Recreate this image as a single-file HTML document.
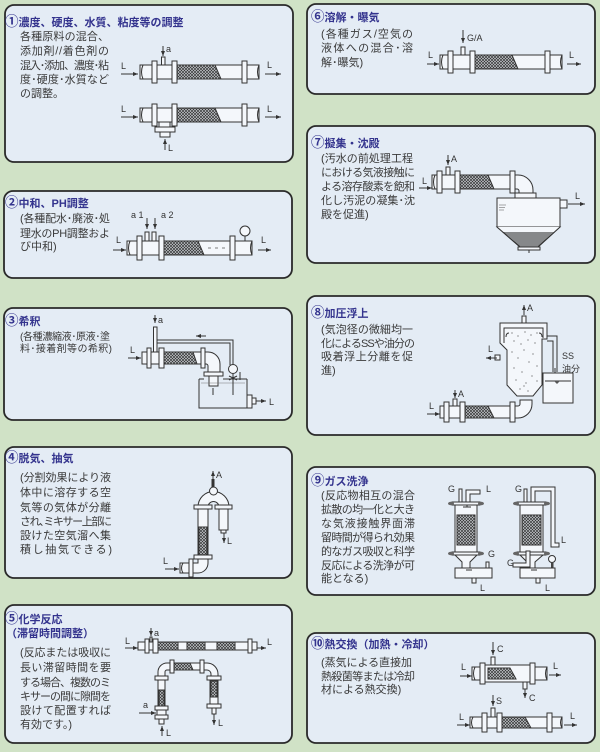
<!DOCTYPE html>
<html><head><meta charset="utf-8"><title>mixer applications</title>
<style>
html,body{margin:0;padding:0;width:600px;height:752px;overflow:hidden;background:#d0e2c6}
svg{display:block}
.bx{fill:#e4ecf5;stroke:#2a2a2a;stroke-width:1.8}
.t{font-family:"Liberation Sans","Noto Sans CJK JP",sans-serif;font-weight:bold;font-size:11px;fill:#34348e}
.c{font-family:"Noto Sans CJK JP",sans-serif;font-size:13.5px;font-weight:bold}
.b{font-family:"Liberation Sans","Noto Sans CJK JP",sans-serif;font-size:11px;fill:#3a3a3a}
.s{font-size:10px}
.l{font-family:"Liberation Sans",sans-serif;font-size:9px;fill:#333}
.p{fill:#f4f7fb;stroke:#333;stroke-width:1}
.m{fill:url(#m);stroke:#333;stroke-width:1}
.n{fill:none;stroke:#333;stroke-width:1}
.ar{fill:none;stroke:#333;stroke-width:1;marker-end:url(#a)}
.d{fill:#555}
</style></head><body>
<svg width="600" height="752" viewBox="0 0 600 752" xmlns="http://www.w3.org/2000/svg">
<defs>
<pattern id="m" width="3" height="3" patternUnits="userSpaceOnUse"><rect width="3" height="3" fill="#cdd1d6"/><path d="M0,0L3,3M3,0L0,3" stroke="#333" stroke-width="0.7"/></pattern>
<pattern id="h" width="2" height="2" patternUnits="userSpaceOnUse"><rect width="2" height="2" fill="#b8bcc0"/><path d="M0,0L2,2M2,0L0,2" stroke="#555" stroke-width="0.5"/></pattern>
<marker id="a" markerWidth="5" markerHeight="5" refX="5" refY="2.5" orient="auto" markerUnits="userSpaceOnUse"><path d="M0,0.5L5,2.5L0,4.5z" fill="#333"/></marker>
</defs>
<rect width="600" height="752" fill="#d0e2c6"/>

<!-- boxes -->
<rect class="bx" x="5" y="5" width="288" height="157" rx="9"/>
<rect class="bx" x="307" y="4" width="288" height="90" rx="9"/>
<rect class="bx" x="4" y="191" width="288" height="87" rx="9"/>
<rect class="bx" x="307" y="126" width="288" height="137" rx="9"/>
<rect class="bx" x="4" y="308" width="288" height="112" rx="9"/>
<rect class="bx" x="307" y="296" width="288" height="139" rx="9"/>
<rect class="bx" x="5" y="447" width="287" height="131" rx="9"/>
<rect class="bx" x="307" y="467" width="288" height="128" rx="9"/>
<rect class="bx" x="5" y="605" width="287" height="138" rx="9"/>
<rect class="bx" x="307" y="633" width="288" height="110" rx="9"/>

<!-- ===== Box 1 text ===== -->
<text class="t" x="5" y="26"><tspan class="c">①</tspan>濃度、硬度、水質、粘度等の調整</text>
<text class="b" x="20" y="40" textLength="89">各種原料の混合、</text>
<text class="b" x="20" y="54.5" textLength="89">添加剤//着色剤の</text>
<text class="b" x="20" y="69" textLength="89">混入･添加、濃度･粘</text>
<text class="b" x="20" y="83" textLength="89">度･硬度･水質など</text>
<text class="b" x="20" y="97">の調整。</text>

<!-- Box 1 diagram top -->
<text class="l" x="121" y="69">L</text>
<line class="ar" x1="121" y1="74" x2="138" y2="74"/>
<rect class="p" x="140" y="65" width="12" height="14"/>
<path class="n" d="M143,65 q-3,7 0,14"/>
<rect class="p" x="152" y="61" width="5" height="22"/>
<rect class="p" x="157" y="65" width="15" height="14"/>
<rect class="p" x="161.5" y="57" width="3.5" height="8"/>
<line class="ar" x1="163" y1="46" x2="163" y2="56"/>
<text class="l" x="166" y="52">a</text>
<rect class="p" x="172" y="61" width="5" height="22"/>
<rect class="p" x="177" y="65" width="65" height="14"/>
<path class="m" d="M177,65H215L221,79H177Z"/>
<rect class="p" x="242" y="61" width="5" height="22"/>
<rect class="p" x="247" y="65" width="12" height="14"/>
<path class="n" d="M259,65 q-3,7 0,14"/>
<text class="l" x="267" y="68">L</text>
<line class="ar" x1="265" y1="74" x2="281" y2="74"/>

<!-- Box 1 diagram bottom -->
<text class="l" x="121" y="112">L</text>
<line class="ar" x1="121" y1="117" x2="138" y2="117"/>
<rect class="p" x="140" y="108" width="12" height="14"/>
<path class="n" d="M143,108 q-3,7 0,14"/>
<rect class="p" x="152" y="104" width="5" height="22"/>
<rect class="p" x="157" y="108" width="15" height="14"/>
<rect class="p" x="159" y="122" width="11" height="5"/>
<rect class="p" x="155" y="127" width="20" height="5"/>
<rect class="p" x="160" y="132" width="10" height="5"/>
<line class="ar" x1="165" y1="150" x2="165" y2="139"/>
<text class="l" x="168" y="151">L</text>
<rect class="p" x="172" y="104" width="5" height="22"/>
<rect class="p" x="177" y="108" width="65" height="14"/>
<path class="m" d="M177,108H215L221,122H177Z"/>
<rect class="p" x="242" y="104" width="5" height="22"/>
<rect class="p" x="247" y="108" width="12" height="14"/>
<path class="n" d="M259,108 q-3,7 0,14"/>
<text class="l" x="267" y="112">L</text>
<line class="ar" x1="265" y1="117" x2="281" y2="117"/>

<!-- ===== Box 6 ===== -->
<text class="t" x="311" y="21"><tspan class="c">⑥</tspan>溶解・曝気</text>
<text class="b" x="321" y="37.5" textLength="92">(各種ガス/空気の</text>
<text class="b" x="321" y="51.5" textLength="92">液体への混合･溶</text>
<text class="b" x="321" y="66">解･曝気)</text>
<text class="l" x="428" y="58">L</text>
<line class="ar" x1="427" y1="64" x2="439" y2="64"/>
<rect class="p" x="440" y="55" width="8" height="14"/>
<path class="n" d="M443,55 q-3,7 0,14"/>
<rect class="p" x="448" y="51" width="5" height="22"/>
<rect class="p" x="453" y="55" width="17" height="14"/>
<rect class="p" x="461" y="47" width="4" height="8"/>
<line class="ar" x1="463" y1="30" x2="463" y2="43"/>
<text class="l" x="467" y="41">G/A</text>
<rect class="p" x="470" y="51" width="5" height="22"/>
<rect class="p" x="475" y="55" width="70" height="14"/>
<path class="m" d="M475,55H512L518,69H475Z"/>
<rect class="p" x="545" y="51" width="5" height="22"/>
<rect class="p" x="550" y="55" width="12" height="14"/>
<path class="n" d="M562,55 q-3,7 0,14"/>
<text class="l" x="569" y="58">L</text>
<line class="ar" x1="567" y1="64" x2="581" y2="64"/>

<!-- ===== Box 2 ===== -->
<text class="t" x="5" y="207"><tspan class="c">②</tspan>中和、PH調整</text>
<text class="b" x="20" y="222" textLength="90">(各種配水･廃液･処</text>
<text class="b" x="20" y="237" textLength="90">理水のPH調整およ</text>
<text class="b" x="20" y="250">び中和)</text>
<text class="l" x="116" y="243">L</text>
<line class="ar" x1="113" y1="250" x2="126" y2="250"/>
<rect class="p" x="127" y="241" width="10" height="14"/>
<path class="n" d="M130,241 q-3,7 0,14"/>
<rect class="p" x="137" y="236" width="5" height="24"/>
<rect class="p" x="142" y="241" width="17" height="14"/>
<rect class="p" x="145" y="232" width="4" height="9"/>
<rect class="p" x="152" y="232" width="4" height="9"/>
<line class="ar" x1="147" y1="218" x2="147" y2="229"/>
<line class="ar" x1="155" y1="218" x2="155" y2="229"/>
<text class="l" x="131" y="218">a 1</text>
<text class="l" x="161" y="218">a 2</text>
<rect class="p" x="159" y="236" width="5" height="24"/>
<rect class="p" x="164" y="241" width="66" height="14"/>
<path class="m" d="M164,241H198L204,255H164Z"/>
<line x1="208" y1="248" x2="228" y2="248" stroke="#555" stroke-width="0.7" stroke-dasharray="3,4"/>
<rect class="p" x="230" y="236" width="5" height="24"/>
<rect class="p" x="235" y="241" width="17" height="14"/>
<path class="n" d="M252,241 q-3,7 0,14"/>
<line class="n" x1="245" y1="241" x2="245" y2="236"/>
<circle class="p" cx="245" cy="231" r="5"/>
<text class="l" x="261" y="243">L</text>
<line class="ar" x1="258" y1="250" x2="271" y2="250"/>

<!-- ===== Box 3 ===== -->
<text class="t" x="5" y="325"><tspan class="c">③</tspan>希釈</text>
<text class="b s" x="20" y="340" textLength="90">(各種濃縮液･原液･塗</text>
<text class="b s" x="20" y="352" textLength="92">料･接着剤等の希釈)</text>
<line class="ar" x1="155" y1="315" x2="155" y2="323"/>
<text class="l" x="158" y="323">a</text>
<rect class="p" x="153.5" y="327" width="3.5" height="25"/>
<path class="n" d="M157,340H233V365"/>
<path class="n" d="M157,343H230V365"/>
<line class="ar" x1="206" y1="336" x2="196" y2="336"/>
<text class="l" x="130" y="353">L</text>
<line class="ar" x1="128" y1="358" x2="141" y2="358"/>
<rect class="p" x="142" y="352" width="6" height="12"/>
<rect class="p" x="147" y="348" width="4" height="20"/>
<rect class="p" x="151" y="352" width="8" height="12"/>
<rect class="p" x="159" y="348" width="5" height="20"/>
<rect class="p" x="164" y="352" width="37" height="12"/>
<path class="m" d="M164,352H193L197,364H164Z"/>
<rect class="p" x="201" y="348" width="4" height="20"/>
<path class="p" d="M205,352H208A12,12 0 0 1 220,364V372H208V366A2,2 0 0 0 206,364H205Z"/>
<rect class="p" x="204" y="372" width="19" height="4"/>
<rect class="p" x="209" y="376" width="9" height="10"/>
<path class="n" d="M199,379V408H247V379M199,379H204M223,379H247"/>
<line x1="201" y1="383" x2="245" y2="383" stroke="#777" stroke-width="0.5"/>
<line class="n" x1="213" y1="388" x2="213" y2="395"/>
<circle class="p" cx="233" cy="369" r="4.5"/>
<path class="n" d="M229,376L237,380M237,376L229,380M233,374V395"/>
<line class="n" x1="240" y1="372" x2="240" y2="380"/>
<rect class="p" x="247" y="395" width="5" height="13"/>
<rect class="p" x="252" y="398" width="4" height="6"/>
<line class="ar" x1="256" y1="401" x2="266" y2="401"/>
<text class="l" x="269" y="405">L</text>

<!-- ===== Box 7 ===== -->
<text class="t" x="311" y="147"><tspan class="c">⑦</tspan>擬集・沈殿</text>
<text class="b" x="321" y="162" textLength="92">(汚水の前処理工程</text>
<text class="b" x="321" y="176" textLength="94">における気液接触に</text>
<text class="b" x="321" y="190" textLength="94">よる溶存酸素を飽和</text>
<text class="b" x="321" y="204" textLength="94">化し汚泥の凝集･沈</text>
<text class="b" x="321" y="218">殿を促進)</text>
<text class="l" x="422" y="184">L</text>
<line class="ar" x1="419" y1="188" x2="432" y2="188"/>
<rect class="p" x="432" y="175" width="5" height="14"/>
<path class="n" d="M435,175 q-3,7 0,14"/>
<rect class="p" x="437" y="171" width="5" height="22"/>
<rect class="p" x="442" y="175" width="13" height="14"/>
<rect class="p" x="446" y="167" width="4" height="8"/>
<line class="ar" x1="448" y1="155" x2="448" y2="165"/>
<text class="l" x="451" y="162">A</text>
<rect class="p" x="455" y="171" width="5" height="22"/>
<rect class="p" x="460" y="175" width="50" height="14"/>
<path class="m" d="M460,175H488L494,189H460Z"/>
<rect class="p" x="510" y="171" width="5" height="22"/>
<path class="p" d="M515,175H518A15,15 0 0 1 533,190V193H519V191A2,2 0 0 0 517,189H515Z"/>
<rect class="p" x="515" y="193" width="21" height="5"/>
<rect class="p" x="497" y="198" width="63" height="29"/>
<path d="M497,227L520,247H538L560,227Z" fill="url(#h)" stroke="#333" stroke-width="1"/>
<path d="M497,227H560L555,232H502Z" fill="#f4f7fb"/>
<path class="n" d="M497,227L520,247H538L560,227"/>
<rect class="p" x="518" y="247" width="22" height="3"/>
<line class="n" x1="529" y1="250" x2="529" y2="253"/>
<path d="M499,205H506M499,207.5H505M499,210H504" stroke="#555" stroke-width="0.6"/>
<rect class="p" x="560" y="200" width="7" height="8"/>
<text class="l" x="575" y="199">L</text>
<line class="ar" x1="568" y1="204" x2="585" y2="204"/>

<!-- ===== Box 8 ===== -->
<text class="t" x="311" y="317"><tspan class="c">⑧</tspan>加圧浮上</text>
<text class="b" x="321" y="333" textLength="92">(気泡径の微細均一</text>
<text class="b" x="321" y="347" textLength="94">化によるSSや油分の</text>
<text class="b" x="321" y="360" textLength="92">吸着浮上分離を促</text>
<text class="b" x="321" y="374">進)</text>
<line class="ar" x1="524" y1="315" x2="524" y2="305"/>
<text class="l" x="527" y="311">A</text>
<rect class="p" x="522" y="316" width="4" height="7"/>
<path class="p" d="M500,323H547V339H542V385L533,396H517L507,385V350L500,343Z"/>
<path class="n" d="M504,343V328H543V338"/>
<path class="n" d="M509,333q-3,0 -3,4M539,333q3,0 3,4"/>
<g class="d">
<circle cx="512" cy="333" r="0.6"/><circle cx="518" cy="336" r="0.6"/><circle cx="525" cy="332" r="0.6"/><circle cx="531" cy="335" r="0.6"/><circle cx="537" cy="333" r="0.6"/>
<circle cx="514" cy="341" r="0.6"/><circle cx="521" cy="344" r="0.6"/><circle cx="528" cy="340" r="0.6"/><circle cx="535" cy="343" r="0.6"/>
<circle cx="512" cy="352" r="0.6"/><circle cx="524" cy="350" r="0.6"/><circle cx="533" cy="354" r="0.6"/><circle cx="518" cy="358" r="0.6"/>
<circle cx="529" cy="362" r="0.6"/><circle cx="537" cy="366" r="0.6"/><circle cx="514" cy="368" r="0.6"/><circle cx="522" cy="372" r="0.6"/>
<circle cx="532" cy="376" r="0.6"/><circle cx="516" cy="380" r="0.6"/><circle cx="526" cy="383" r="0.6"/><circle cx="537" cy="381" r="0.6"/>
<circle cx="520" cy="389" r="0.6"/><circle cx="528" cy="391" r="0.6"/><circle cx="524" cy="386" r="0.6"/>
</g>
<path class="n" d="M547,336H557V372M547,341H553V372"/>
<line class="ar" x1="555" y1="368" x2="555" y2="378"/>
<rect class="p" x="543" y="373" width="30" height="30"/>
<line class="n" x1="545" y1="381" x2="571" y2="381"/>
<path d="M554,381L560,381L557,384Z" fill="#555"/>
<rect class="p" x="495" y="355" width="5" height="5"/>
<text class="l" x="488" y="352">L</text>
<line class="ar" x1="497" y1="358" x2="486" y2="358"/>
<text class="l" x="562" y="359">SS</text>
<text class="l" x="562" y="372" style="font-family:'Liberation Sans','Noto Sans CJK JP',sans-serif">油分</text>
<text class="l" x="429" y="409">L</text>
<line class="ar" x1="427" y1="414" x2="440" y2="414"/>
<rect class="p" x="440" y="406" width="4" height="12"/>
<rect class="p" x="444" y="402" width="5" height="20"/>
<rect class="p" x="449" y="406" width="11" height="12"/>
<rect class="p" x="453" y="399" width="4" height="7"/>
<line class="ar" x1="455" y1="390" x2="455" y2="398"/>
<text class="l" x="458" y="397">A</text>
<rect class="p" x="460" y="402" width="5" height="20"/>
<rect class="p" x="465" y="406" width="45" height="12"/>
<path class="m" d="M465,406H488L494,418H465Z"/>
<rect class="p" x="510" y="402" width="5" height="20"/>
<path class="p" d="M515,406H518A2,2 0 0 0 520,404V400H532V404A14,14 0 0 1 518,418H515Z"/>

<!-- ===== Box 4 ===== -->
<text class="t" x="5" y="462"><tspan class="c">④</tspan>脱気、抽気</text>
<text class="b" x="20" y="481" textLength="91">(分割効果により液</text>
<text class="b" x="20" y="496" textLength="91">体中に溶存する空</text>
<text class="b" x="20" y="511" textLength="91">気等の気体が分離</text>
<text class="b" x="20" y="525" textLength="92">され､ミキサー上部に</text>
<text class="b" x="20" y="539" textLength="91">設けた空気溜へ集</text>
<text class="b" x="20" y="553" textLength="92">積し抽気できる)</text>
<line class="ar" x1="213" y1="482" x2="213" y2="471"/>
<text class="l" x="216" y="478">A</text>
<rect x="211.5" y="479" width="3" height="9" fill="#333"/>
<path class="p" d="M198,507A15.5,15.5 0 0 1 229,507H219A5.5,5.5 0 0 0 208,507Z"/>
<circle class="p" cx="213.5" cy="491" r="4"/>
<rect class="p" x="194" y="505" width="18" height="4"/>
<rect class="p" x="215" y="505" width="17" height="4"/>
<rect class="p" x="198" y="509" width="10" height="46"/>
<rect class="m" x="199" y="527" width="8" height="28"/>
<rect class="p" x="219" y="509" width="9" height="21"/>
<rect class="p" x="221" y="530" width="5" height="3"/>
<line class="ar" x1="224" y1="533" x2="224" y2="543"/>
<text class="l" x="227" y="544">L</text>
<rect class="p" x="194" y="555" width="18" height="4"/>
<path class="p" d="M198,559H208V563A10,10 0 0 1 198,573H193V563H198Z"/>
<rect class="p" x="189" y="559" width="4" height="18"/>
<rect class="p" x="180" y="563" width="9" height="10"/>
<path class="n" d="M183,563 q-3,5 0,10"/>
<text class="l" x="163" y="564">L</text>
<line class="ar" x1="165" y1="569" x2="179" y2="569"/>

<!-- ===== Box 5 ===== -->
<text class="t" x="5" y="623"><tspan class="c">⑤</tspan>化学反応</text>
<text class="t" x="6" y="637">（滞留時間調整）</text>
<text class="b" x="20" y="656" textLength="91">(反応または吸収に</text>
<text class="b" x="20" y="671" textLength="91">長い滞留時間を要</text>
<text class="b" x="20" y="686" textLength="91">する場合、複数のミ</text>
<text class="b" x="20" y="700" textLength="91">キサーの間に隙間を</text>
<text class="b" x="20" y="714" textLength="91">設けて配置すれば</text>
<text class="b" x="20" y="728">有効です。)</text>
<text class="l" x="125" y="644">L</text>
<line class="ar" x1="125" y1="648" x2="138" y2="648"/>
<rect class="p" x="138" y="642" width="7" height="8"/>
<rect class="p" x="145" y="639" width="4" height="14"/>
<rect class="p" x="149" y="642" width="4" height="8"/>
<rect class="p" x="150" y="637" width="2" height="5"/>
<line class="ar" x1="151" y1="628" x2="151" y2="636"/>
<text class="l" x="154" y="636">a</text>
<rect class="p" x="153" y="639" width="5" height="14"/>
<rect class="p" x="158" y="642" width="90" height="8"/>
<rect class="m" x="158" y="642" width="20" height="8"/>
<rect class="m" x="187" y="642" width="18" height="8"/>
<rect class="m" x="217" y="642" width="18" height="8"/>
<rect class="p" x="248" y="639" width="4" height="14"/>
<rect class="p" x="252" y="642" width="5" height="8"/>
<line class="ar" x1="257" y1="648" x2="266" y2="648"/>
<text class="l" x="267" y="645">L</text>
<path class="p" d="M158,677V672A9,9 0 0 1 167,663H170V670H167A2,2 0 0 0 165,672V677Z"/>
<rect class="p" x="170" y="660" width="4" height="13"/>
<rect class="p" x="174" y="663" width="26" height="7"/>
<path class="m" d="M174,663H190L193,670H174Z"/>
<rect class="p" x="200" y="660" width="4" height="13"/>
<path class="p" d="M204,663H207A11,11 0 0 1 218,674V676H211V674A4,4 0 0 0 207,670H204Z"/>
<rect class="p" x="207" y="676" width="14" height="4"/>
<rect class="p" x="210" y="680" width="8" height="24"/>
<rect class="m" x="211" y="681" width="6" height="16"/>
<rect class="p" x="207" y="704" width="14" height="4"/>
<rect class="p" x="212" y="708" width="4" height="6"/>
<line class="ar" x1="214" y1="714" x2="214" y2="725"/>
<text class="l" x="218" y="726">L</text>
<rect class="p" x="155" y="676" width="13" height="4"/>
<rect class="p" x="158" y="680" width="7" height="26"/>
<rect class="m" x="159" y="690" width="5" height="16"/>
<rect class="p" x="155" y="706" width="13" height="4"/>
<rect class="p" x="157" y="710" width="9" height="5"/>
<rect class="p" x="155" y="715" width="13" height="4"/>
<rect class="p" x="159" y="719" width="5" height="5"/>
<line class="ar" x1="162" y1="736" x2="162" y2="726"/>
<text class="l" x="166" y="736">L</text>
<text class="l" x="143" y="708">a</text>
<line class="ar" x1="139" y1="713" x2="156" y2="713"/>

<!-- ===== Box 9 ===== -->
<text class="t" x="311" y="485"><tspan class="c">⑨</tspan>ガス洗浄</text>
<text class="b" x="321" y="499" textLength="94">(反応物相互の混合</text>
<text class="b" x="321" y="513" textLength="94">拡散の均一化と大き</text>
<text class="b" x="321" y="527" textLength="94">な気液接触界面滞</text>
<text class="b" x="321" y="541" textLength="94">留時間が得られ効果</text>
<text class="b" x="321" y="555" textLength="94">的なガス吸収と科学</text>
<text class="b" x="321" y="569" textLength="94">反応による洗浄が可</text>
<text class="b" x="321" y="582">能となる)</text>
<!-- left column -->
<text class="l" x="448" y="492">G</text>
<text class="l" x="486" y="492">L</text>
<rect class="p" x="459" y="489" width="3" height="15"/>
<path class="p" d="M466,503V490H480V494H470V503Z"/>
<rect class="p" x="455" y="503" width="22" height="50"/>
<rect class="m" x="457" y="515" width="18" height="30"/>
<rect class="p" x="452" y="502" width="28" height="3"/>
<ellipse cx="451" cy="503.5" rx="3" ry="1.8" fill="#666"/>
<ellipse cx="481" cy="503.5" rx="3" ry="1.8" fill="#666"/>
<path class="n" d="M463,507H471M467,505V507"/>
<rect class="p" x="452" y="552" width="28" height="3"/>
<ellipse cx="451" cy="553.5" rx="3" ry="1.8" fill="#666"/>
<ellipse cx="481" cy="553.5" rx="3" ry="1.8" fill="#666"/>
<path class="p" d="M455,555L462,562V568H470V562L477,555Z"/>
<rect class="p" x="486" y="562" width="3" height="6"/>
<text class="l" x="488" y="557">G</text>
<rect class="p" x="455" y="568" width="37" height="10"/>
<line class="n" x1="466" y1="570" x2="472" y2="570"/>
<rect class="p" x="472" y="578" width="4" height="5"/>
<text class="l" x="480" y="591">L</text>
<!-- right column -->
<text class="l" x="515" y="492">G</text>
<rect class="p" x="524" y="489" width="3" height="15"/>
<path class="p" d="M531,503V487H555V543H559V547H551V491H535V503Z"/>
<text class="l" x="561" y="543">L</text>
<rect class="p" x="520" y="503" width="23" height="50"/>
<rect class="m" x="522" y="515" width="19" height="30"/>
<rect class="p" x="517" y="502" width="29" height="3"/>
<ellipse cx="516" cy="503.5" rx="3" ry="1.8" fill="#666"/>
<ellipse cx="547" cy="503.5" rx="3" ry="1.8" fill="#666"/>
<rect class="p" x="517" y="552" width="29" height="3"/>
<ellipse cx="516" cy="553.5" rx="3" ry="1.8" fill="#666"/>
<ellipse cx="547" cy="553.5" rx="3" ry="1.8" fill="#666"/>
<path class="p" d="M520,555L527,562V568H535V562L543,555Z"/>
<path class="p" d="M513,563H526V551H530V567H513Z"/>
<text class="l" x="507" y="566">G</text>
<circle class="p" cx="552" cy="559" r="3.5"/>
<rect x="551" y="563" width="2.5" height="12" fill="#444"/>
<rect class="p" x="520" y="568" width="35" height="10"/>
<line class="n" x1="531" y1="570" x2="537" y2="570"/>
<rect class="p" x="536" y="578" width="4" height="5"/>
<text class="l" x="545" y="591">L</text>

<!-- ===== Box 10 ===== -->
<text class="t" x="311" y="648"><tspan class="c">⑩</tspan>熱交換（加熱・冷却）</text>
<text class="b" x="321" y="666" textLength="91">(蒸気による直接加</text>
<text class="b" x="321" y="680" textLength="94">熱殺菌等または冷却</text>
<text class="b" x="321" y="693">材による熱交換)</text>
<!-- top -->
<text class="l" x="461" y="670">L</text>
<line class="ar" x1="460" y1="676" x2="472" y2="676"/>
<rect class="p" x="472" y="667" width="8" height="13"/>
<path class="n" d="M475,667 q-3,6.5 0,13"/>
<rect class="p" x="480" y="663" width="5" height="21"/>
<rect class="p" x="485" y="665" width="45" height="17"/>
<path class="m" d="M488,668H510L516,679H488Z"/>
<rect class="p" x="491" y="657" width="4" height="8"/>
<line class="ar" x1="493" y1="642" x2="493" y2="655"/>
<text class="l" x="497" y="652">C</text>
<rect class="p" x="523" y="682" width="4" height="7"/>
<line class="ar" x1="525" y1="689" x2="525" y2="698"/>
<text class="l" x="529" y="701">C</text>
<rect class="p" x="530" y="663" width="5" height="21"/>
<rect class="p" x="535" y="667" width="12" height="13"/>
<path class="n" d="M547,667 q-3,6.5 0,13"/>
<text class="l" x="553" y="669">L</text>
<line class="ar" x1="549" y1="675" x2="561" y2="675"/>
<!-- bottom -->
<line class="ar" x1="493" y1="695" x2="493" y2="706"/>
<text class="l" x="496" y="704">S</text>
<text class="l" x="459" y="720">L</text>
<line class="ar" x1="457" y1="725" x2="470" y2="725"/>
<rect class="p" x="470" y="717" width="12" height="11"/>
<path class="n" d="M473,717 q-3,5.5 0,11"/>
<rect class="p" x="482" y="713" width="5" height="19"/>
<rect class="p" x="487" y="717" width="10" height="11"/>
<rect class="p" x="491" y="708" width="4" height="9"/>
<rect class="p" x="497" y="713" width="5" height="19"/>
<rect class="p" x="502" y="717" width="45" height="11"/>
<path class="m" d="M502,717H525L531,728H502Z"/>
<rect class="p" x="547" y="713" width="5" height="19"/>
<rect class="p" x="552" y="717" width="10" height="11"/>
<path class="n" d="M562,717 q-3,5.5 0,11"/>
<text class="l" x="570" y="719">L</text>
<line class="ar" x1="564" y1="725" x2="577" y2="725"/>
</svg>
</body></html>
